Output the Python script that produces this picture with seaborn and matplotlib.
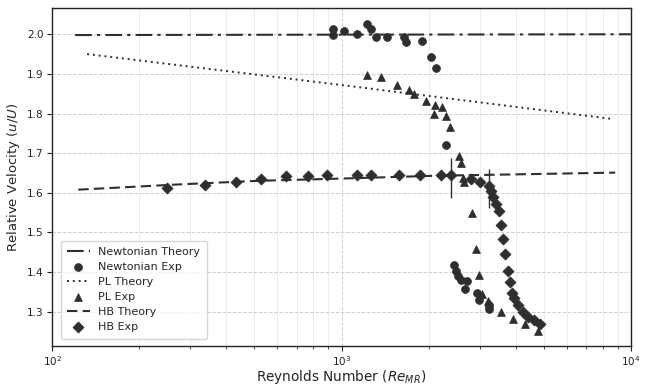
import matplotlib
matplotlib.use("Agg")
import matplotlib.pyplot as plt
import seaborn as sns
import numpy as np
import pandas as pd

# ---- data ----
newt_theory_x = [120, 1000, 10000]
newt_theory_y = [1.998, 1.999, 2.000]

pl_theory_x = [132, 1000, 8490]
pl_theory_y = [1.950, 1.872, 1.787]

hb_theory_x = [123, 200, 270, 500, 1000, 2090, 8830]
hb_theory_y = [1.608, 1.616, 1.621, 1.630, 1.636, 1.643, 1.651]

newt_exp_x = [935, 935, 1023, 1127, 1222, 1264, 1315, 1433, 1641, 1671, 1897, 2042,
              2129, 2306, 2455, 2489, 2535, 2587, 2722, 2673, 2930, 2985, 3229, 3236]
newt_exp_y = [2.013, 1.997, 2.009, 2.001, 2.027, 2.013, 1.992, 1.992, 1.992, 1.980, 1.984, 1.942,
              1.915, 1.720, 1.419, 1.402, 1.391, 1.381, 1.377, 1.358, 1.348, 1.329, 1.318, 1.306]

pl_exp_x = [1223, 1372, 1552, 1707, 1786, 1954, 2103, 2095, 2222, 2288, 2374, 2548, 2581,
            2620, 2650, 2833, 2912, 2997, 3068, 3202, 3244, 3567, 3910, 4316, 4760]
pl_exp_y = [1.897, 1.891, 1.872, 1.859, 1.849, 1.831, 1.822, 1.799, 1.817, 1.794, 1.767, 1.694, 1.675,
            1.637, 1.628, 1.548, 1.458, 1.392, 1.346, 1.327, 1.321, 1.300, 1.281, 1.270, 1.251]

hb_exp_x = [250, 337, 432, 526, 644, 766, 893, 1133, 1264, 1579, 1866, 2213, 2383, 2793, 3007,
            3223, 3274, 3339, 3415, 3505, 3550, 3620, 3667, 3761, 3818, 3880, 3943, 4073,
            4233, 4418, 4633, 4862]
hb_exp_y = [1.613, 1.619, 1.627, 1.635, 1.642, 1.642, 1.644, 1.645, 1.646, 1.646, 1.646, 1.644,
            1.644, 1.634, 1.627, 1.617, 1.604, 1.590, 1.573, 1.554, 1.520, 1.484, 1.446, 1.404,
            1.375, 1.348, 1.335, 1.318, 1.300, 1.287, 1.278, 1.268]

err_x = [2383, 3223]
err_y = [1.638, 1.610]
err_h = [0.051, 0.049]

# ---- plotting ----
sns.set_style("ticks")
plt.rcParams['font.family'] = ['DejaVu Sans']

fig = plt.figure(figsize=(6.45, 3.86), dpi=100)
ax = fig.add_axes([0.081, 0.103, 0.897, 0.876])

c = "#2e2e2e"

ax.grid(True, which="major", axis="both", linestyle="--", color="#cfcfcf", linewidth=0.7)
ax.grid(True, which="minor", axis="x", linestyle="-", color="#ececec", linewidth=0.7)
ax.set_axisbelow(True)

sns.lineplot(x=newt_theory_x, y=newt_theory_y, ax=ax, color=c, lw=1.5,
             label="Newtonian Theory", linestyle=(0, (8, 2.5, 1.5, 2.5)))
sns.scatterplot(x=newt_exp_x, y=newt_exp_y, ax=ax, color=c, marker="o", s=32,
                edgecolor=c, linewidth=0.5, label="Newtonian Exp", zorder=3)
sns.lineplot(x=pl_theory_x, y=pl_theory_y, ax=ax, color=c, lw=1.4,
             label="PL Theory", linestyle=(0, (1, 2)))
sns.scatterplot(x=pl_exp_x, y=pl_exp_y, ax=ax, color=c, marker="^", s=32,
                edgecolor=c, linewidth=0.5, label="PL Exp", zorder=3)
sns.lineplot(x=hb_theory_x, y=hb_theory_y, ax=ax, color=c, lw=1.5,
             label="HB Theory", linestyle=(0, (5, 2.5)))
sns.scatterplot(x=hb_exp_x, y=hb_exp_y, ax=ax, color=c, marker="D", s=32,
                edgecolor=c, linewidth=0.5, label="HB Exp", zorder=3)
ax.errorbar(err_x, err_y, yerr=err_h, fmt="none", ecolor=c, elinewidth=1.0, capsize=0, zorder=4)

ax.set_xscale("log")
ax.set_xlim(100, 10000)
ax.set_ylim(1.213, 2.066)
ax.set_yticks([1.3, 1.4, 1.5, 1.6, 1.7, 1.8, 1.9, 2.0])
ax.tick_params(axis="both", labelsize=7.5, colors="#222222", length=3.5, pad=2.5)
ax.tick_params(axis="x", which="minor", length=2.5)

for sp in ax.spines.values():
    sp.set_color("#222222")
    sp.set_linewidth(1.0)

ax.set_xlabel(r"Reynolds Number ($Re_{MR}$)", fontsize=9.8, labelpad=0)
ax.set_ylabel(r"Relative Velocity ($u/U$)", fontsize=9.5, labelpad=4)

leg = ax.legend(loc="lower left", fontsize=8, frameon=True, borderpad=0.6,
                labelspacing=0.45, handlelength=2.0, bbox_to_anchor=(0.005, 0.005))
leg.get_frame().set_edgecolor("#cccccc")

fig.savefig("out.png", dpi=100)
